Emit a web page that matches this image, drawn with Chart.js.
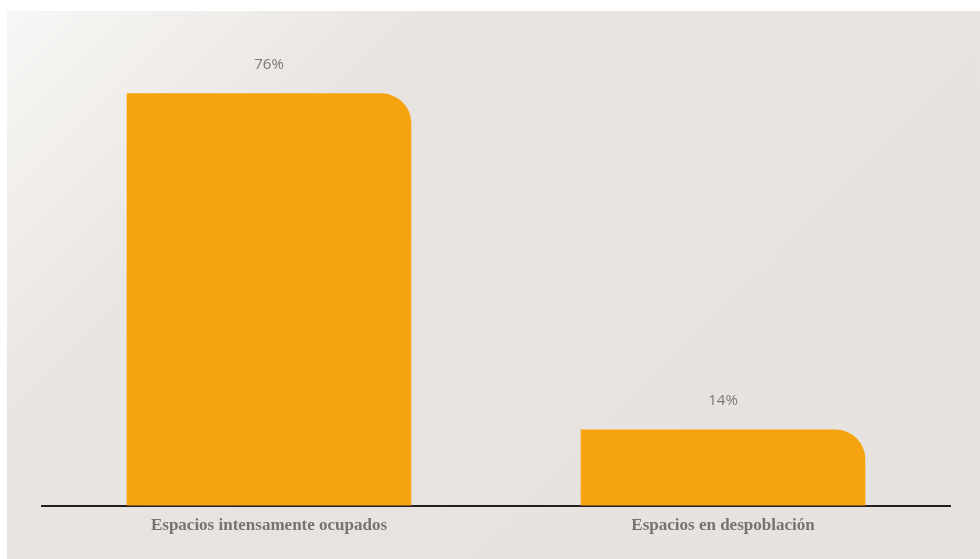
<!DOCTYPE html>
<html>
<head>
<meta charset="utf-8">
<script src="https://cdn.jsdelivr.net/npm/chart.js@4.4.1/dist/chart.umd.min.js"></script>
<style>
  html, body { margin: 0; padding: 0; background: #fff; }
  #marco {
    position: absolute; left: 7px; top: 11px; width: 973px; height: 548px;
    background: linear-gradient(135deg, #f8f7f5 0%, #e8e4e1 28%, #e6e2df 100%);
  }
</style>
</head>
<body>
<div id="marco"><canvas id="grafico" width="973" height="548"></canvas></div>
<script>
const categorias = ['Espacios intensamente ocupados', 'Espacios en despoblación'];
const valores = [76, 14];
const etiquetas = ['76%', '14%'];

// etiquetas de porcentaje encima de cada barra
const etiquetasBarras = {
    id: 'etiquetasBarras',
    afterDatasetsDraw(chart) {
        const ctx = chart.ctx;
        const meta = chart.getDatasetMeta(0);
        ctx.save();
        ctx.font = '15px "Open Sans", sans-serif';
        ctx.fillStyle = '#7a7877';
        ctx.textAlign = 'center';
        ctx.textBaseline = 'middle';
        meta.data.forEach((barra, i) => {
            ctx.fillText(etiquetas[i], barra.x, barra.y - 29);
        });
        ctx.restore();
    }
};

const grafico = new Chart(document.getElementById('grafico'), {
    type: 'bar',
    data: {
        labels: categorias,
        datasets: [{
            data: valores,
            backgroundColor: '#f5a40f',
            borderWidth: 0,
            borderRadius: { topLeft: 0, topRight: 30, bottomLeft: 0, bottomRight: 0 },
            borderSkipped: false,
            barThickness: 284
        }]
    },
    options: {
        responsive: false,
        animation: false,
        layout: { padding: { left: 35, right: 30, top: 61, bottom: 13 } },
        plugins: { legend: { display: false }, tooltip: { enabled: false } },
        scales: {
            x: {
                grid: { display: false, drawTicks: false },
                border: { display: true, color: '#231f20', width: 2 },
                ticks: {
                    color: '#767372',
                    padding: 10,
                    font: { family: '"Liberation Serif", serif', size: 17, weight: 'bold' }
                }
            },
            y: {
                display: false,
                min: 0,
                max: 80
            }
        }
    },
    plugins: [etiquetasBarras]
});
</script>
</body>
</html>
